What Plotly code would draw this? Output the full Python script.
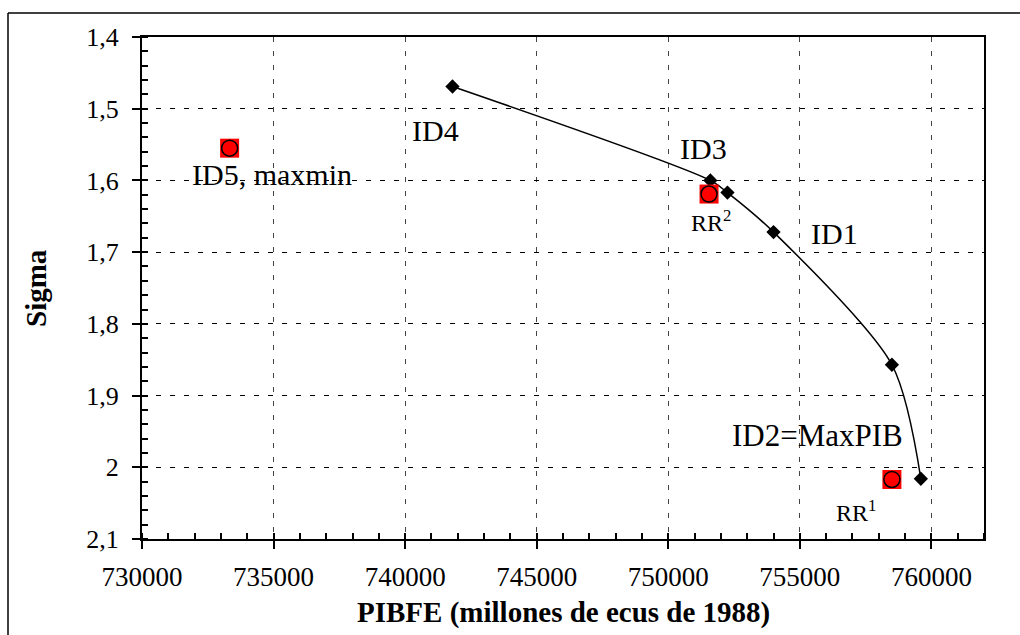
import plotly.graph_objects as go

# Frontier (black diamonds, smoothed line)
frontier_x = [741800, 751600, 752250, 754000, 758500, 759600]
frontier_y = [1.469, 1.600, 1.617, 1.672, 1.857, 2.016]

# Red highlighted solutions
red_x = [733330, 751550, 758500]
red_y = [1.555, 1.619, 2.017]

# Labels
label_text = ["ID4", "ID3", "ID1", "ID2=MaxPIB", "ID5, maxmin", "RR<sup>2</sup>", "RR<sup>1</sup>"]
label_x = [741150, 751340, 756310, 755670, 734930, 751640, 757150]
label_y = [1.530, 1.555, 1.6745, 1.956, 1.592, 1.656, 2.061]
label_size = [30, 30, 30, 31, 30, 24, 24]

x_ticks = [730000, 735000, 740000, 745000, 750000, 755000, 760000]
x_ticktext = ["730000", "735000", "740000", "745000", "750000", "755000", "760000"]
y_ticks = [1.4, 1.5, 1.6, 1.7, 1.8, 1.9, 2.0, 2.1]
y_ticktext = ["1,4", "1,5", "1,6", "1,7", "1,8", "1,9", "2", "2,1"]

FONT = "Times New Roman, Liberation Serif, serif"

fig = go.Figure()
fig.add_trace(go.Scatter(
    x=frontier_x, y=frontier_y, mode="lines+markers",
    line=dict(color="black", width=1.5, shape="spline", smoothing=0.8),
    marker=dict(symbol="diamond", size=11, color="black"),
    showlegend=False, hoverinfo="skip"))
fig.add_trace(go.Scatter(
    x=red_x, y=red_y, mode="markers",
    marker=dict(symbol="square", size=19, color="#ff0000", line=dict(width=0)),
    showlegend=False, hoverinfo="skip"))
fig.add_trace(go.Scatter(
    x=red_x, y=red_y, mode="markers",
    marker=dict(symbol="circle", size=16, color="#ff0000", line=dict(width=1.5, color="black")),
    showlegend=False, hoverinfo="skip"))

for t, lx, ly, fs in zip(label_text, label_x, label_y, label_size):
    fig.add_annotation(x=lx, y=ly, xref="x", yref="y", text=t, showarrow=False,
                       font=dict(family=FONT, size=fs, color="black"),
                       xanchor="center", yanchor="middle")

fig.update_layout(
    width=1020, height=635,
    margin=dict(l=142, r=36, t=37, b=96),
    paper_bgcolor="white", plot_bgcolor="white",
    font=dict(family=FONT, color="black"),
    xaxis=dict(range=[730000, 762000], tickvals=x_ticks, ticktext=x_ticktext,
               ticks="outside", ticklen=8, tickwidth=1.5, tickcolor="black",
               showline=True, linecolor="black", linewidth=2, mirror=True,
               zeroline=False, tickfont=dict(size=27, family=FONT),
               ticklabelstandoff=5,
               showgrid=True, gridcolor="#444444", gridwidth=1, griddash="5px,9px",
               minor=dict(dtick=1000, ticks="inside", ticklen=6, tickwidth=1.5,
                          tickcolor="black", showgrid=False)),
    yaxis=dict(range=[2.1, 1.4], tickvals=y_ticks, ticktext=y_ticktext,
               ticks="outside", ticklen=8, tickwidth=1.5, tickcolor="black",
               showline=True, linecolor="black", linewidth=2, mirror=True,
               zeroline=False, tickfont=dict(size=26, family=FONT),
               ticklabelstandoff=8,
               showgrid=True, gridcolor="black", gridwidth=1, griddash="5px,9px",
               minor=dict(dtick=0.02, tick0=1.4, ticks="inside", ticklen=6, tickwidth=1.5,
                          tickcolor="black", showgrid=False)),
    xaxis2=dict(overlaying="x", anchor="y", matches="x", range=[730000, 762000],
                tickvals=x_ticks, ticks="inside", ticklen=6, tickwidth=1.5,
                tickcolor="black", showticklabels=False, showgrid=False,
                showline=False, zeroline=False),
    yaxis2=dict(overlaying="y", anchor="x", matches="y", range=[2.1, 1.4],
                tickvals=y_ticks, ticks="inside", ticklen=6, tickwidth=1.5,
                tickcolor="black", showticklabels=False, showgrid=False,
                showline=False, zeroline=False, side="left"),
)

# Axis titles
fig.add_annotation(x=0.5, y=-(612 - 539) / 502.0, xref="paper", yref="paper",
                   text="<b>PIBFE (millones de ecus de 1988)</b>", showarrow=False,
                   font=dict(family=FONT, size=29, color="black"),
                   xanchor="center", yanchor="middle")
fig.add_annotation(x=-(142 - 36) / 842.0, y=0.5, xref="paper", yref="paper",
                   text="<b>Sigma</b>", textangle=-90, showarrow=False,
                   font=dict(family=FONT, size=29, color="black"),
                   xanchor="center", yanchor="middle")

# Outer frame (top and left edges visible)
fig.add_shape(type="line", xref="paper", yref="paper",
              x0=-(142 - 8) / 842.0, x1=1.2, y0=1 + 24 / 502.0, y1=1 + 24 / 502.0,
              line=dict(color="black", width=1.5))
fig.add_shape(type="line", xref="paper", yref="paper",
              x0=-(142 - 8) / 842.0, x1=-(142 - 8) / 842.0, y0=1 + 24 / 502.0, y1=-0.3,
              line=dict(color="black", width=1.5))

fig.write_html("out.html")
